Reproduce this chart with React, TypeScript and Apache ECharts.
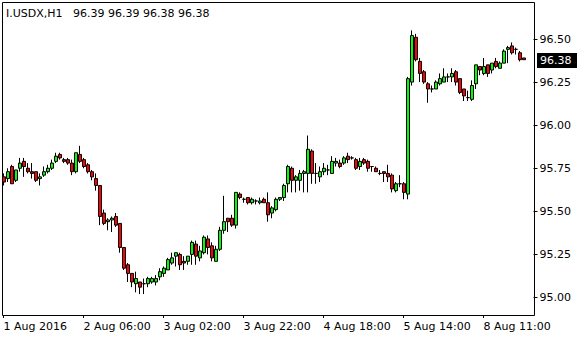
import { useEffect, useRef } from 'react';
import * as echarts from 'echarts';

const symbol = 'I.USDX,H1';
const tickIndex = [0, 20, 40, 60, 80, 100, 120];
const tickLabels = ['1 Aug 2016', '2 Aug 06:00', '3 Aug 02:00', '3 Aug 22:00', '4 Aug 18:00', '5 Aug 14:00', '8 Aug 11:00'];
const priceTicks = [95.0, 95.25, 95.5, 95.75, 96.0, 96.25, 96.5];

const opens = [
  95.70, 95.69, 95.76, 95.68, 95.75, 95.79, 95.75, 95.73, 95.73, 95.69,
  95.71, 95.73, 95.75, 95.79, 95.83, 95.80, 95.80, 95.78, 95.73, 95.83,
  95.80, 95.77, 95.73, 95.69, 95.65, 95.49, 95.44, 95.45, 95.47, 95.43,
  95.29, 95.19, 95.14, 95.08, 95.09, 95.08, 95.08, 95.09, 95.09, 95.12,
  95.14, 95.16, 95.20, 95.24, 95.25, 95.21, 95.21, 95.25, 95.31, 95.23,
  95.26, 95.34, 95.30, 95.21, 95.28, 95.39, 95.46, 95.46, 95.42, 95.60,
  95.57, 95.58, 95.55, 95.56, 95.55, 95.57, 95.55, 95.49, 95.51, 95.57,
  95.58, 95.66, 95.75, 95.68, 95.68, 95.72, 95.72, 95.85, 95.72, 95.70,
  95.73, 95.74, 95.72, 95.78, 95.78, 95.78, 95.82, 95.81, 95.80, 95.76,
  95.80, 95.79, 95.76, 95.75, 95.72, 95.73, 95.72, 95.71, 95.62, 95.66,
  95.66, 95.60, 96.25, 96.51, 96.37, 96.31, 96.24, 96.21, 96.21, 96.24,
  96.25, 96.28, 96.28, 96.31, 96.27, 96.21, 96.16, 96.15, 96.24, 96.34,
  96.30, 96.35, 96.32, 96.37, 96.33, 96.36, 96.44, 96.46, 96.44, 96.42,
  96.39,
];
const highs = [
  95.72, 95.75, 95.77, 95.74, 95.81, 95.81, 95.78, 95.78, 95.73, 95.72,
  95.76, 95.77, 95.80, 95.84, 95.84, 95.81, 95.81, 95.80, 95.84, 95.88,
  95.81, 95.78, 95.74, 95.72, 95.65, 95.51, 95.46, 95.47, 95.49, 95.43,
  95.29, 95.20, 95.14, 95.15, 95.09, 95.11, 95.12, 95.12, 95.13, 95.17,
  95.18, 95.23, 95.26, 95.26, 95.26, 95.24, 95.24, 95.33, 95.33, 95.30,
  95.36, 95.36, 95.32, 95.30, 95.41, 95.59, 95.46, 95.48, 95.61, 95.61,
  95.58, 95.58, 95.58, 95.57, 95.58, 95.58, 95.61, 95.53, 95.58, 95.58,
  95.66, 95.77, 95.76, 95.71, 95.74, 95.74, 95.94, 95.86, 95.78, 95.76,
  95.78, 95.77, 95.82, 95.81, 95.80, 95.82, 95.84, 95.82, 95.81, 95.81,
  95.81, 95.80, 95.76, 95.76, 95.74, 95.73, 95.77, 95.72, 95.67, 95.71,
  95.67, 96.28, 96.55, 96.53, 96.39, 96.32, 96.25, 96.23, 96.26, 96.30,
  96.33, 96.30, 96.33, 96.32, 96.27, 96.21, 96.20, 96.26, 96.35, 96.34,
  96.39, 96.35, 96.36, 96.39, 96.37, 96.44, 96.46, 96.48, 96.45, 96.43,
  96.39,
];
const lows = [
  95.65, 95.67, 95.66, 95.67, 95.73, 95.70, 95.72, 95.69, 95.67, 95.65,
  95.70, 95.72, 95.74, 95.78, 95.80, 95.78, 95.77, 95.71, 95.72, 95.78,
  95.75, 95.72, 95.68, 95.62, 95.42, 95.42, 95.39, 95.38, 95.41, 95.26,
  95.16, 95.09, 95.06, 95.03, 95.02, 95.02, 95.06, 95.08, 95.07, 95.10,
  95.12, 95.16, 95.19, 95.18, 95.16, 95.16, 95.19, 95.19, 95.19, 95.21,
  95.25, 95.25, 95.21, 95.21, 95.27, 95.37, 95.38, 95.41, 95.40, 95.57,
  95.55, 95.54, 95.54, 95.54, 95.54, 95.55, 95.44, 95.46, 95.50, 95.56,
  95.56, 95.61, 95.61, 95.61, 95.62, 95.61, 95.61, 95.66, 95.66, 95.67,
  95.71, 95.71, 95.72, 95.76, 95.75, 95.77, 95.78, 95.80, 95.74, 95.74,
  95.77, 95.73, 95.73, 95.73, 95.71, 95.67, 95.67, 95.61, 95.61, 95.64,
  95.57, 95.57, 96.23, 96.37, 96.25, 96.24, 96.13, 96.19, 96.21, 96.23,
  96.25, 96.25, 96.25, 96.23, 96.18, 96.14, 96.14, 96.14, 96.21, 96.29,
  96.29, 96.28, 96.30, 96.33, 96.33, 96.36, 96.36, 96.41, 96.41, 96.37,
  96.38,
];
const closes = [
  95.67, 95.73, 95.66, 95.74, 95.78, 95.76, 95.73, 95.72, 95.68, 95.70,
  95.73, 95.75, 95.78, 95.82, 95.81, 95.79, 95.78, 95.73, 95.84, 95.79,
  95.76, 95.73, 95.70, 95.65, 95.47, 95.43, 95.45, 95.46, 95.42, 95.29,
  95.17, 95.14, 95.09, 95.11, 95.06, 95.08, 95.11, 95.11, 95.11, 95.15,
  95.17, 95.22, 95.23, 95.26, 95.19, 95.20, 95.24, 95.32, 95.24, 95.27,
  95.35, 95.29, 95.23, 95.28, 95.39, 95.44, 95.44, 95.42, 95.61, 95.58,
  95.57, 95.55, 95.57, 95.56, 95.56, 95.55, 95.48, 95.52, 95.57, 95.58,
  95.65, 95.76, 95.68, 95.70, 95.72, 95.73, 95.86, 95.72, 95.72, 95.73,
  95.75, 95.74, 95.79, 95.79, 95.76, 95.81, 95.80, 95.81, 95.75, 95.79,
  95.78, 95.75, 95.76, 95.73, 95.72, 95.72, 95.70, 95.63, 95.66, 95.66,
  95.61, 96.27, 96.52, 96.38, 96.30, 96.25, 96.21, 96.21, 96.25, 96.27,
  96.28, 96.28, 96.30, 96.25, 96.19, 96.17, 96.16, 96.23, 96.35, 96.32,
  96.34, 96.30, 96.36, 96.34, 96.36, 96.43, 96.45, 96.42, 96.44, 96.38,
  96.38,
];

const FONT = 'DejaVu Sans';
const BULL = '#00ff00';
const BEAR = '#ff0000';

export default function App() {
  const ref = useRef<HTMLDivElement>(null);

  useEffect(() => {
    document.body.style.margin = '0';
    const chart = echarts.init(ref.current!, null, { renderer: 'svg' });
    const slots = 133;
    const cats: string[] = Array.from({ length: slots }, () => '');
    tickIndex.forEach((ix, k) => {
      cats[ix] = tickLabels[k];
    });
    const data = opens.map((o, i) => ({
      value: [o, closes[i], lows[i], highs[i]],
      itemStyle: { color: closes[i] >= o ? BULL : BEAR, color0: BEAR, borderColor: '#000', borderColor0: '#000' },
    }));
    const showTick = (_i: number, v: string) => v !== '';

    chart.setOption({
      animation: false,
      backgroundColor: '#ffffff',
      grid: { left: 1.5, top: 2, width: 532, height: 313 },
      xAxis: {
        type: 'category',
        data: cats,
        boundaryGap: true,
        axisLine: { show: false },
        axisTick: { show: true, alignWithLabel: true, interval: showTick, length: 3, lineStyle: { color: '#000' } },
        axisLabel: { interval: showTick, align: 'left', margin: 6, color: '#000', fontFamily: FONT, fontSize: 11 },
        splitLine: { show: false },
      },
      yAxis: {
        type: 'value',
        position: 'right',
        min: 94.8985,
        max: 96.7147,
        axisLine: { show: false },
        axisTick: { show: true, customValues: priceTicks, length: 4, lineStyle: { color: '#000' } },
        axisLabel: {
          customValues: priceTicks,
          formatter: (v: number) => v.toFixed(2),
          margin: 6,
          color: '#000',
          fontFamily: FONT,
          fontSize: 11,
        },
        splitLine: { show: false },
      },
      series: [
        {
          type: 'candlestick',
          data,
          barWidth: 3.5,
          large: false,
          itemStyle: {
            color: BULL,
            color0: BEAR,
            borderColor: '#000',
            borderColor0: '#000',
            borderColorDoji: '#000',
            borderWidth: 1,
          },
        },
      ],
    });

    const n = closes.length - 1;
    const yLast = chart.convertToPixel({ yAxisIndex: 0 }, closes[n]) as number;
    const titleText = `${symbol}   ${opens[n].toFixed(2)} ${highs[n].toFixed(2)} ${lows[n].toFixed(2)} ${closes[n].toFixed(2)}`;

    chart.setOption({
      graphic: [
        {
          type: 'rect',
          shape: { x: 2.5, y: 2.5, width: 532, height: 313 },
          style: { fill: 'none', stroke: '#000', lineWidth: 1 },
          silent: true,
        },
        {
          type: 'text',
          style: { text: titleText, x: 6, y: 13, verticalAlign: 'middle', font: `11px "${FONT}"`, fill: '#000' },
        },
        {
          type: 'rect',
          shape: { x: 537, y: Math.round(yLast) - 7, width: 40, height: 15 },
          style: { fill: '#000' },
        },
        {
          type: 'text',
          style: {
            text: closes[n].toFixed(2),
            x: 540,
            y: Math.round(yLast) + 0.5,
            verticalAlign: 'middle',
            font: `11px "${FONT}"`,
            fill: '#fff',
          },
        },
      ],
    });

    return () => chart.dispose();
  }, []);

  return <div ref={ref} style={{ width: 580, height: 340 }} />;
}
